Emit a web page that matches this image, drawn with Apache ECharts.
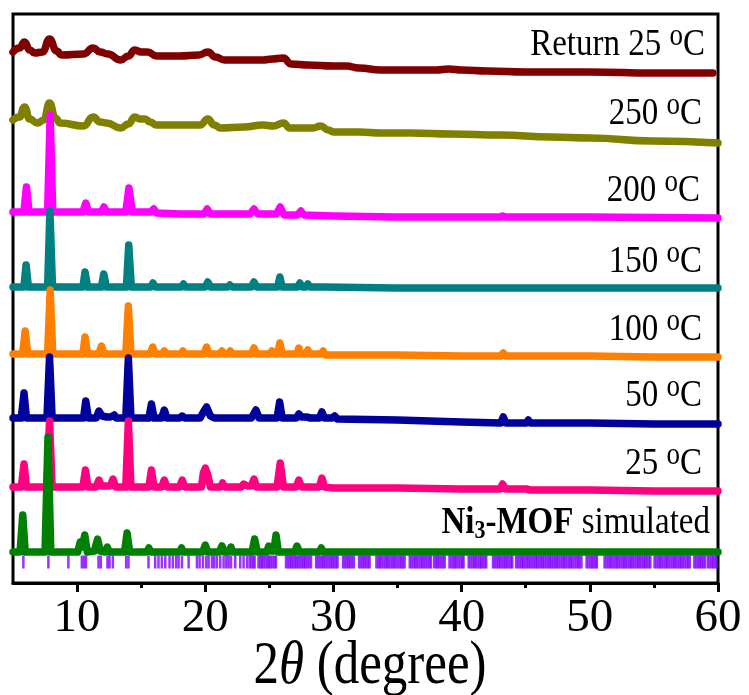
<!DOCTYPE html>
<html>
<head>
<meta charset="utf-8">
<title>PXRD — Ni3-MOF variable temperature</title>
<script src="https://cdn.jsdelivr.net/npm/echarts@6/dist/echarts.min.js"></script>
<style>
  html, body { margin: 0; padding: 0; background: #fff; }
  #chart { width: 749px; height: 695px; }
</style>
</head>
<body>
<div id="chart"></div>
<script>
// Stacked powder patterns: [2θ, offset intensity (a.u.)]
const returnRT = [[5,531],[5.5,535],[5.9,541],[6.3,533],[6.7,530],[7.3,531],[7.85,544],[8.4,532],[8.8,528],[10.5,529],[11.25,535],[11.8,531],[12.4,529],[13.4,523],[14.0,527],[14.5,533],[15.0,531],[15.5,531],[16.2,527],[18,527],[19.5,528],[20.2,531],[20.8,526],[21.5,523],[23,523],[24.5,523],[25.2,524],[26.1,525],[26.7,519],[28,518],[30,517],[31,517],[32,515],[33.7,513],[35,513],[38,513],[39,514],[40,513],[42,512],[45,511],[50,511],[55,510],[59.6,510]];

const t250 = [[5,463],[5.5,466],[5.9,476],[6.3,464],[6.9,460],[7.4,463],[7.85,480],[8.3,465],[8.7,460],[10.5,457],[11.25,466],[11.8,461],[12.3,460],[13.4,455],[14.0,459],[14.5,466],[14.9,464],[15.3,464],[15.7,461],[16.2,458],[19.6,458],[20.2,464],[20.7,458],[21.2,455],[23,456],[24.5,458],[25.3,457],[26.1,460],[26.6,455],[28.4,455],[29.0,457],[29.6,453],[30,451],[32,451],[33.7,450],[36,450],[39.2,449],[43,448],[47,446],[50,445],[54.9,442],[60,440]];

const t200 = [[5,371],[5.85,371],[6.05,396],[6.25,371],[7.7,371],[7.9,468],[8.1,371],[10.45,371],[10.68,380],[10.9,371],[11.9,371],[12.1,376],[12.3,371],[13.8,371],[14.05,395],[14.3,371],[15.75,371],[15.98,374],[16.2,370],[18.0,369],[19.9,369],[20.15,374],[20.4,369],[23.5,369],[23.8,374],[24.1,369],[25.55,369],[25.85,376],[26.15,368],[27.2,368],[27.45,372],[27.7,368],[30,367],[35,366],[43.0,366],[43.2,367],[43.4,366],[50,366],[60,365]];

const t150 = [[5,296],[5.85,296],[6.02,318],[6.2,296],[7.7,296],[7.88,372],[8.08,296],[10.45,296],[10.62,311],[10.82,296],[11.9,296],[12.08,309],[12.28,296],[13.85,296],[14.03,338],[14.23,296],[15.75,296],[15.92,300],[16.1,296],[16.7,296],[16.85,298],[17.0,296],[18.15,296],[18.3,299],[18.45,296],[20.0,296],[20.2,301],[20.4,296],[21.75,296],[21.92,298],[22.1,296],[23.6,296],[23.8,301],[24.0,296],[25.05,296],[25.2,298],[25.35,296],[25.65,296],[25.82,306],[26.0,296],[27.2,296],[27.38,300],[27.55,296],[27.85,296],[28.0,299],[28.15,296],[28.95,296],[29.1,298],[29.25,296],[35,295],[43.1,295],[43.25,297],[43.4,295],[60,295]];

const t100 = [[5,229],[5.75,229],[5.95,252],[6.15,229],[7.7,229],[7.9,293],[8.1,229],[10.45,229],[10.62,246],[10.82,229],[11.7,229],[11.9,237],[12.1,229],[13.8,229],[14.0,277],[14.2,229],[15.7,229],[15.9,236],[16.1,229],[16.65,229],[16.8,232],[16.95,229],[18.1,229],[18.25,232],[18.4,229],[19.9,229],[20.1,236],[20.3,229],[21.15,229],[21.3,232],[21.45,229],[21.8,229],[21.95,232],[22.1,229],[23.6,229],[23.8,235],[24.0,229],[25.05,229],[25.2,232],[25.35,229],[25.65,229],[25.82,240],[26.0,229],[27.15,229],[27.3,235],[27.45,229],[27.85,229],[28.0,233],[28.15,229],[29.05,229],[29.2,232],[29.35,228],[30,228],[35,228],[40,227],[43.05,227],[43.25,230],[43.45,227],[50,227],[55,226],[60,226]];

const t50 = [[5,165],[5.65,165],[5.86,190],[6.05,165],[7.65,165],[7.85,226],[8.05,165],[10.5,165],[10.68,182],[10.88,165],[11.5,165],[11.7,172],[11.95,167],[12.3,166],[12.45,168],[12.6,166],[12.75,166],[12.9,168],[13.05,165],[13.8,165],[14.0,225],[14.2,165],[15.6,165],[15.8,179],[16.0,165],[16.6,165],[16.8,173],[17.0,165],[18.0,165],[18.2,167],[18.4,165],[19.6,165],[19.9,172],[20.1,176],[20.4,167],[20.7,165],[21.2,165],[21.35,167],[21.5,165],[23.6,165],[23.95,173],[24.2,165],[25.6,165],[25.8,181],[26.0,165],[27.1,165],[27.3,169],[27.5,166],[27.9,166],[28.05,167],[28.2,165],[28.9,165],[29.1,171],[29.3,165],[29.9,165],[30.1,167],[30.3,164],[35,163],[40,161],[43.05,160],[43.25,166],[43.45,160],[45.05,160],[45.2,163],[45.35,160],[50,160],[55,159],[60,159]];

const t25 = [[5,96],[5.65,96],[5.86,119],[6.05,96],[7.65,96],[7.85,162],[8.05,96],[10.45,96],[10.65,113],[10.85,96],[11.5,96],[11.7,103],[11.9,97],[12.3,97],[12.45,99],[12.6,97],[12.8,104],[13.0,96],[13.8,96],[14.0,162],[14.2,96],[15.6,96],[15.8,113],[16.0,96],[16.6,96],[16.8,103],[17.0,96],[18.0,96],[18.2,103],[18.4,96],[19.7,96],[19.85,110],[20.0,115],[20.2,108],[20.4,96],[21.2,96],[21.35,100],[21.5,96],[22.8,96],[23.0,99],[23.3,97],[23.6,97],[23.8,104],[24.0,96],[25.6,96],[25.85,120],[26.1,96],[27.1,96],[27.3,103],[27.5,96],[28.9,96],[29.1,105],[29.3,96],[30,95],[35,95],[40,94],[43.0,94],[43.2,99],[43.4,94],[45.05,94],[45.2,96],[45.35,93],[50,93],[55,92],[60,92]];

const simulated = [[5,31],[5.55,31],[5.76,68],[5.95,31],[7.5,31],[7.73,146],[7.95,31],[10.05,31],[10.25,41],[10.4,36],[10.6,48],[10.8,31],[11.35,32],[11.6,44],[11.8,32],[12.2,31],[12.35,36],[12.5,31],[13.7,31],[13.9,50],[14.1,31],[15.45,31],[15.6,35],[15.75,31],[17.1,31],[17.2,33],[17.35,31],[18,31],[18.15,35],[18.3,31],[19.8,31],[20.0,38],[20.2,31],[21.1,31],[21.3,37],[21.5,31],[21.85,31],[22.0,36],[22.15,31],[23.65,31],[23.85,44],[24.05,31],[24.8,31],[24.95,37],[25.1,32],[25.35,32],[25.52,48],[25.7,31],[27.0,31],[27.15,37],[27.35,31],[28.9,31],[29.05,35],[29.2,31],[60,31]];

// Calculated Bragg reflection positions (2θ)
const reflections = [5.81,7.76,9.32,10.37,10.55,10.70,11.67,11.85,12.37,12.53,12.79,13.83,14.01,15.57,16.09,16.35,16.61,16.88,17.21,17.47,17.73,17.92,18.18,18.70,19.35,19.56,19.82,20.08,20.26,20.52,20.70,20.91,21.17,21.43,21.64,21.82,22.01,22.34,22.73,22.99,23.26,23.46,
23.6,23.75,23.85,24.15,24.3,24.42,24.55,24.7,24.85,24.97,25.1,25.25,25.4,25.52,
26.3,26.45,26.6,26.72,26.85,27.0,27.12,27.25,27.4,27.55,27.68,27.8,27.95,28.1,28.25,
28.65,28.8,28.95,29.1,29.22,29.35,29.5,29.65,29.8,29.92,30.05,30.2,30.32,
30.75,30.9,31.05,31.18,31.3,31.45,31.6,32.0,32.15,32.3,32.42,32.55,32.7,32.82,
33.35,33.5,33.62,33.75,33.9,34.05,34.18,34.3,34.45,34.6,34.72,34.85,35.0,35.15,35.28,35.42,35.55,
35.95,36.1,36.25,36.38,36.5,36.65,36.8,36.92,37.05,37.2,37.35,37.5,37.6,
37.85,38.0,38.12,38.25,38.4,38.55,38.68,39.05,39.2,39.35,39.48,39.6,39.75,39.9,40.05,40.15,
40.55,40.7,40.85,40.98,41.1,41.25,41.4,41.52,41.65,41.8,41.92,
42.45,42.6,42.75,42.88,43.0,43.15,43.3,43.42,43.55,43.7,43.85,43.95,
44.25,44.4,44.55,44.68,44.8,44.95,45.1,45.22,45.35,45.5,45.65,45.78,45.9,46.05,46.2,46.32,46.45,46.6,46.75,46.88,47.0,47.15,47.3,47.42,47.55,47.7,47.85,47.98,48.1,48.25,48.4,48.52,48.65,48.8,48.95,49.08,49.2,49.35,
49.75,49.9,50.05,50.18,50.3,50.45,50.55,
51.15,51.3,51.45,51.58,51.7,51.85,52.0,52.12,52.25,52.4,52.55,52.68,52.8,52.95,53.1,53.22,53.35,53.5,53.65,53.78,53.9,54.05,54.2,54.32,54.45,54.6,54.72,
55.05,55.2,55.35,55.48,55.6,55.75,55.9,56.02,56.15,56.3,56.45,56.58,56.7,56.85,57.0,57.12,57.25,57.4,57.55,57.68,57.8,
58.15,58.3,58.45,58.58,58.7,58.85,58.98,59.2,59.35,59.5,59.62,59.75,59.9];
const reflectionLevel = 21;

const majorTicks = [10, 20, 30, 40, 50, 60];
const minorTicks = [15, 25, 35, 45, 55];

const seriesNames = ['Return 25 °C', '250 °C', '200 °C', '150 °C', '100 °C', '50 °C', '25 °C', 'Ni3-MOF simulated'];
const seriesData = [returnRT, t250, t200, t150, t100, t50, t25, simulated];
const seriesColors = ['#800000', '#808000', '#ff00ff', '#008080', '#ff8000', '#00009c', '#ff0080', '#008000'];
// the two amorphous-looking patterns are drawn with rounded humps
const seriesSmooth = [0.5, 0.5, false, false, false, false, false, false];

const SERIF = "'Liberation Serif', 'Times New Roman', serif";

const chart = echarts.init(document.getElementById('chart'), null, { renderer: 'canvas' });

const lineSeries = seriesData.map((d, i) => ({
  type: 'line',
  name: seriesNames[i],
  data: d,
  showSymbol: false,
  silent: true,
  smooth: seriesSmooth[i],
  smoothMonotone: 'x',
  lineStyle: { color: seriesColors[i], width: 7.5, join: 'round', cap: 'round' },
  z: 2 + i
}));

// Temperature labels drawn at the right end of each pattern; the raised "o" is lifted with bottom padding
function tempLabel(prefix, x, y) {
  return {
    type: 'text', x: x, y: y, scaleY: 1.17, z: 100, silent: true,
    style: {
      text: '{n|' + prefix + ' }{s|o}{n|C}',
      align: 'right', verticalAlign: 'middle',
      rich: {
        n: { fontFamily: SERIF, fontSize: 33, lineHeight: 36, fill: '#000' },
        s: { fontFamily: SERIF, fontSize: 27, lineHeight: 20, padding: [0, 0, 14, 0], fill: '#000' }
      }
    }
  };
}

const labelTexts = ['Return 25', '250', '200', '150', '100', '50', '25'];
const labelAnchors = [[705, 45], [702, 114], [700, 191], [702, 262], [702, 330], [702, 396], [702, 464]];

const graphics = labelTexts.map((t, i) => tempLabel(t, labelAnchors[i][0], labelAnchors[i][1]));
graphics.push({
  type: 'text', x: 710, y: 523, scaleY: 1.17, z: 100, silent: true,
  style: {
    text: '{b|Ni}{sub|3}{b|-MOF}{n| simulated}',
    align: 'right', verticalAlign: 'middle',
    rich: {
      b: { fontFamily: SERIF, fontSize: 33, fontWeight: 'bold', lineHeight: 36, fill: '#000' },
      sub: { fontFamily: SERIF, fontSize: 22, fontWeight: 'bold', lineHeight: 12, verticalAlign: 'bottom', fill: '#000' },
      n: { fontFamily: SERIF, fontSize: 33, lineHeight: 36, fill: '#000' }
    }
  }
});
graphics.push({
  type: 'text', x: 370, y: 667, scaleY: 1.2, z: 100, silent: true,
  style: {
    text: '{n|2}{i|θ}{n| (degree)}',
    align: 'center', verticalAlign: 'middle',
    rich: {
      n: { fontFamily: SERIF, fontSize: 51, lineHeight: 56, fill: '#000' },
      i: { fontFamily: SERIF, fontSize: 51, fontStyle: 'italic', lineHeight: 56, fill: '#000' }
    }
  }
});

chart.setOption({
  animation: false,
  backgroundColor: '#fff',
  grid: {
    left: 13, right: 31, top: 14, bottom: 112,
    show: true, borderColor: '#000', borderWidth: 3, backgroundColor: 'transparent'
  },
  xAxis: [
    {
      type: 'value', min: 5, max: 60, interval: 5, position: 'bottom',
      axisLine: { show: true, onZero: false, lineStyle: { color: '#000', width: 3 } },
      axisTick: { show: true, inside: false, length: 9, customValues: majorTicks, lineStyle: { color: '#000', width: 3 } },
      axisLabel: { show: true, customValues: majorTicks, fontFamily: SERIF, fontSize: 47, color: '#000', margin: 12 },
      splitLine: { show: false }
    },
    {
      type: 'value', min: 5, max: 60, interval: 5, position: 'bottom',
      axisLine: { show: false, onZero: false },
      axisTick: { show: true, inside: false, length: 5, customValues: minorTicks, lineStyle: { color: '#000', width: 3 } },
      axisLabel: { show: false },
      splitLine: { show: false }
    }
  ],
  yAxis: {
    type: 'value', min: 0, max: 569,
    axisLine: { show: false }, axisTick: { show: false }, axisLabel: { show: false }, splitLine: { show: false }
  },
  series: lineSeries.concat([{
    type: 'scatter',
    name: 'reflections',
    data: reflections.map(p => [p, reflectionLevel]),
    symbol: 'rect',
    symbolSize: [2.5, 13],
    silent: true,
    itemStyle: { color: '#7f00ff' },
    z: 20
  }]),
  graphic: graphics
});
</script>
</body>
</html>
